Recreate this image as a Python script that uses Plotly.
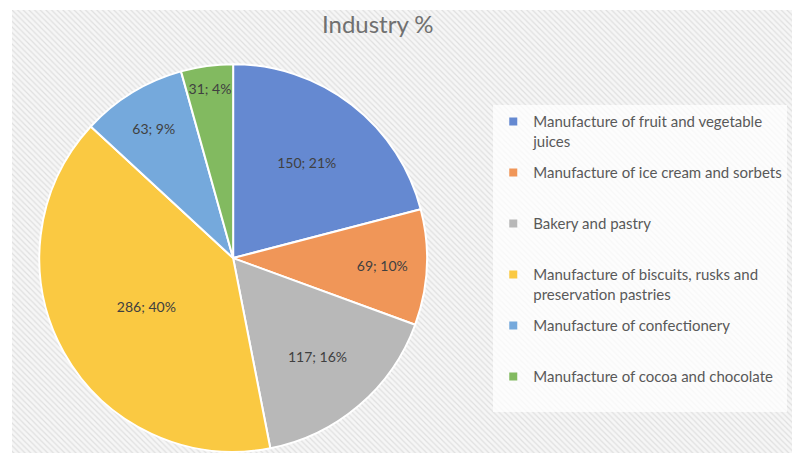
import plotly.graph_objects as go

# slice data
categories = [
    "Manufacture of fruit and vegetable juices",
    "Manufacture of ice cream and sorbets",
    "Bakery and pastry",
    "Manufacture of biscuits, rusks and preservation pastries",
    "Manufacture of confectionery",
    "Manufacture of cocoa and chocolate",
]
legend_labels = [
    "Manufacture of fruit and vegetable<br>juices",
    "Manufacture of ice cream and sorbets<br> ",
    "Bakery and pastry<br> ",
    "Manufacture of biscuits, rusks and<br>preservation pastries",
    "Manufacture of confectionery<br> ",
    "Manufacture of cocoa and chocolate<br> ",
]
counts = [150, 69, 117, 286, 63, 31]
slice_colors = ['#6589d1', '#f09658', '#b8b8b8', '#fac942', '#75a9dc', '#82ba60']

fig = go.Figure()

# hatched background filling the plot area
fig.add_trace(go.Bar(
    x=[0], y=[1], width=1,
    marker=dict(color='white', line=dict(width=0),
                pattern=dict(shape='\\', size=4, solidity=0.3,
                             fgcolor='#c8c8c8', bgcolor='#f6f6f6')),
    hoverinfo='skip', showlegend=False,
))

fig.add_trace(go.Pie(
    labels=categories,
    values=counts,
    sort=False,
    direction='clockwise',
    rotation=0,
    marker=dict(colors=slice_colors, line=dict(color='white', width=2)),
    texttemplate='%{value}; %{percent:.0%}',
    textposition='inside',
    insidetextorientation='horizontal',
    textfont=dict(color='#404040', size=14),
    domain=dict(x=[0.035, 0.532], y=[0.002, 0.878]),
    showlegend=False,
))

# legend entries, one group each so the gap can be tuned
for name, col in zip(legend_labels, slice_colors):
    fig.add_trace(go.Scatter(
        x=[None], y=[None], mode='markers', name=name, legendgroup=name,
        marker=dict(symbol='square', size=8, color=col),
    ))

fig.update_layout(
    width=792, height=453,
    margin=dict(l=12, r=0, t=10, b=0),
    paper_bgcolor='white',
    plot_bgcolor='white',
    font=dict(family='Lato, Open Sans, sans-serif', color='#595959', size=15),
    title=dict(text='Industry %', x=0.477, xanchor='center', y=0.945, yanchor='middle',
               font=dict(size=24, color='#707070')),
    xaxis=dict(range=[-0.5, 0.5], visible=False, domain=[0, 1], fixedrange=True),
    yaxis=dict(range=[0, 1], visible=False, domain=[0, 1], fixedrange=True),
    bargap=0,
    legend=dict(x=0.617, y=0.785, xanchor='left', yanchor='top',
                bgcolor='rgba(255,255,255,0.75)', valign='top',
                tracegroupgap=9, itemwidth=30,
                font=dict(size=15, color='#595959')),
)

fig.write_html("out.html", config={'displayModeBar': False},
               post_script="document.body.style.margin='0';")
